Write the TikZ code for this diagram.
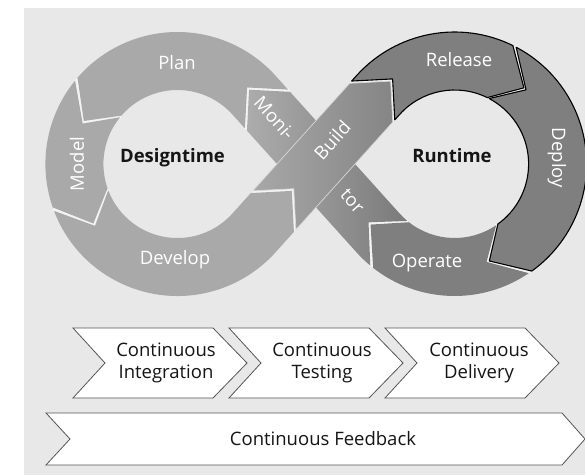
\documentclass[tikz,border=0pt]{standalone}
\usepackage{fontspec}
\setmainfont{Open Sans}
\usetikzlibrary{calc}
\definecolor{bgc}{HTML}{E8E8E8}
\definecolor{lring}{HTML}{A9A9A9}
\definecolor{rring}{HTML}{7F7F7F}
\definecolor{gapc}{HTML}{F4F4F4}
\definecolor{txtd}{HTML}{151515}
\definecolor{boxline}{HTML}{555555}
\definecolor{monA}{HTML}{ACACAC}
\definecolor{monB}{HTML}{7A7A7A}
\definecolor{bldA}{HTML}{A8A8A8}
\definecolor{bldB}{HTML}{858585}
\def\ringO{132}\def\ringI{74}\def\ringM{103}\def\halfW{29}
\begin{document}
\begin{tikzpicture}[x=1pt,y=1pt,
  outl/.style={draw=black,line width=1.1pt,line join=round},
  gapline/.style={draw=gapc,line width=4.5pt,line join=miter},
  lbl/.style={text=white,font=\fontsize{18.5}{22}\selectfont,inner sep=0pt},
  hub/.style={text=txtd,font=\fontsize{18.5}{22}\selectfont\bfseries,inner sep=0pt},
  chev/.style={fill=white,draw=boxline,line width=0.8pt,line join=miter},
  ctext/.style={text=txtd,font=\fontsize{18.5}{22}\selectfont,align=center,inner sep=0pt}]
\useasboundingbox (0,0) rectangle (585,475);
\fill[bgc] (24,0) rectangle (585,467);
\coordinate (C1) at (177.4,311);
\coordinate (C2) at (454.6,311);
\coordinate (X) at (316,311);

% gaps between the segments
\draw[gapline] ($(X)+(132:72.5)+(42:\halfW)$) -- ($(X)+(132:101.5)$) -- ($(X)+(132:72.5)+(222:\halfW)$);
\draw[gapline] ($(C1)+(140:\ringO)$) -- ($(C1)+(156.1:\ringM)$) -- ($(C1)+(140:\ringI)$);
\draw[gapline] ($(C1)+(200:\ringO)$) -- ($(C1)+(216.1:\ringM)$) -- ($(C1)+(200:\ringI)$);
\draw[gapline] ($(X)+(228:63.7)+(318:\halfW)$) -- ($(X)+(228:34.7)$) -- ($(X)+(228:63.7)+(138:\halfW)$);
\draw[gapline] ($(X)+(48:84)+(138:\halfW)$) -- ($(X)+(48:113)$) -- ($(X)+(48:84)+(318:\halfW)$);
\draw[gapline] ($(C2)+(63:\ringO)$) -- ($(C2)+(46.9:\ringM)$) -- ($(C2)+(63:\ringI)$);
\draw[gapline] ($(C2)+(-55:\ringO)$) -- ($(C2)+(-71.1:\ringM)$) -- ($(C2)+(-55:\ringI)$);
\draw[gapline] ($(C2)+(-128.9:\ringO)$) -- ($(X)+(-48:80)$) -- ($(C2)+(-128.9:\ringI)$);

% Plan
\fill[lring] ($(X)+(132:74)+(42:\halfW)$) -- ($(C1)+(42:\ringO)$) arc[start angle=42,end angle=139.2,radius=\ringO] -- ($(C1)+(155.3:\ringM)$) -- ($(C1)+(139.2:\ringI)$) arc[start angle=139.2,end angle=42,radius=\ringI] -- ($(X)+(132:74)+(222:\halfW)$) -- ($(X)+(132:103)$) -- cycle;
% Model
\fill[lring] ($(C1)+(140.8:\ringO)$) arc[start angle=140.8,end angle=199.2,radius=\ringO] -- ($(C1)+(215.3:\ringM)$) -- ($(C1)+(199.2:\ringI)$) arc[start angle=199.2,end angle=140.8,radius=\ringI] -- ($(C1)+(156.9:\ringM)$) -- cycle;
% Develop
\fill[lring] ($(C1)+(200.8:\ringO)$) arc[start angle=200.8,end angle=318,radius=\ringO] -- ($(X)+(228:65.2)+(318:\halfW)$) -- ($(X)+(228:36.2)$) -- ($(X)+(228:65.2)+(138:\halfW)$) -- ($(C1)+(318:\ringI)$) arc[start angle=318,end angle=200.8,radius=\ringI] -- ($(C1)+(216.9:\ringM)$) -- cycle;
% Operate
\fill[rring] ($(C2)+(-55.8:\ringO)$) arc[start angle=-55.8,end angle=-128.1,radius=\ringO] -- ($(X)+(-48:81.5)$) -- ($(C2)+(-128.1:\ringI)$) arc[start angle=-128.1,end angle=-55.8,radius=\ringI] -- ($(C2)+(-71.9:\ringM)$) -- cycle;
% Release
\fill[rring,outl] ($(X)+(48:85.5)+(138:\halfW)$) -- ($(C2)+(138:\ringO)$) arc[start angle=138,end angle=63.8,radius=\ringO] -- ($(C2)+(47.7:\ringM)$) -- ($(C2)+(63.8:\ringI)$) arc[start angle=63.8,end angle=138,radius=\ringI] -- ($(X)+(48:85.5)+(318:\halfW)$) -- ($(X)+(48:114.5)$) -- cycle;
% Deploy
\fill[rring,outl] ($(C2)+(62.2:\ringO)$) arc[start angle=62.2,end angle=-54.2,radius=\ringO] -- ($(C2)+(-70.3:\ringM)$) -- ($(C2)+(-54.2:\ringI)$) arc[start angle=-54.2,end angle=62.2,radius=\ringI] -- ($(C2)+(46.1:\ringM)$) -- cycle;
% Monitor ribbon
\shade[left color=monA,right color=monB] ($(C2)+(-129.7:\ringI)$) -- ($(X)+(-48:78.5)$) -- ($(C2)+(-129.7:\ringO)$) arc[start angle=-129.7,end angle=-138,radius=\ringO] -- ($(X)+(132:71)+(222:\halfW)$) -- ($(X)+(132:100)$) -- ($(X)+(132:71)+(42:\halfW)$) -- ($(C2)+(-138:\ringI)$) arc[start angle=-138,end angle=-129.7,radius=\ringI] -- cycle;
% Build ribbon
\shadedraw[left color=bldA,right color=bldB,draw=white!55!bldA,line width=0.7pt] ($(X)+(228:62.2)+(318:\halfW)$) -- ($(X)+(228:33.2)$) -- ($(X)+(228:62.2)+(138:\halfW)$) -- ($(X)+(48:82.5)+(138:\halfW)$) -- ($(X)+(48:111.5)$) -- ($(X)+(48:82.5)+(318:\halfW)$) -- cycle;

% labels
\node[lbl,anchor=base] (plan) at (177,406) {Plan};
\node[lbl,rotate=90] (model) at (77,311) {Model};
\node[lbl,anchor=base] (develop) at (175,211) {Develop};
\node[lbl,anchor=base] (release) at (459,409) {Release};
\node[lbl,rotate=-90] (deploy) at (557,317) {Deploy};
\node[lbl,anchor=base] (operate) at (427,208) {Operate};
\node[lbl,rotate=-48] (moni) at ($(X)+(132:62)$) {Moni-};
\node[lbl,rotate=-48] (tor) at ($(X)+(-48:52)+(42:2)$) {tor};
\node[lbl,rotate=48] (build) at ($(X)+(48:28.5)+(138:4)$) {Build};
\node[hub,anchor=base] (design) at (172.5,313) {Designtime};
\node[hub,anchor=base] (run) at (452,313) {Runtime};

% bottom chevrons
\draw[chev] (73,147) -- (213,147) -- (247,112) -- (213,77) -- (73,77) -- (105,112) -- cycle;
\draw[chev] (229,147) -- (369,147) -- (403,112) -- (369,77) -- (229,77) -- (261,112) -- cycle;
\draw[chev] (385,147) -- (525,147) -- (559,112) -- (525,77) -- (385,77) -- (417,112) -- cycle;
\draw[chev] (46,62) -- (562,62) -- (585,36) -- (562,10) -- (46,10) -- (70,36) -- cycle;
\node[ctext] (ci) at (166,112) {Continuous\\Integration};
\node[ctext] (ct) at (322,112) {Continuous\\Testing};
\node[ctext] (cd) at (479,112) {Continuous\\Delivery};
\node[ctext] (cf) at (323,36) {Continuous Feedback};
\end{tikzpicture}
\end{document}
